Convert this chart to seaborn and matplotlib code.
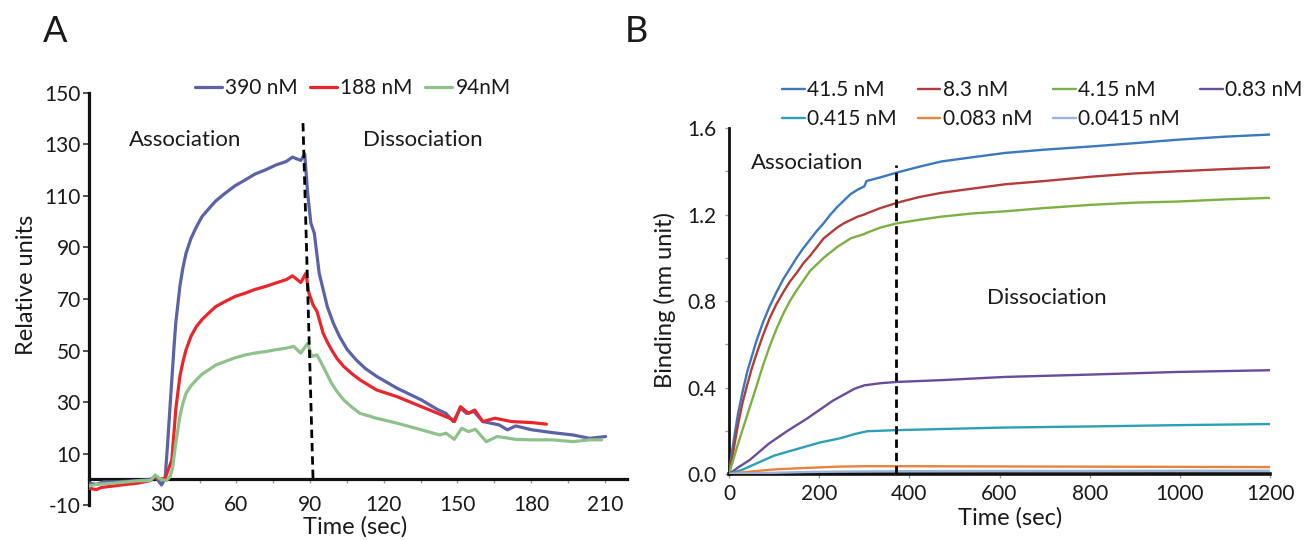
import matplotlib
matplotlib.use("Agg")
import matplotlib.pyplot as plt
from matplotlib.ticker import MultipleLocator, FormatStrFormatter
import seaborn as sns

# ---------------- Panel A: SPR sensorgrams ----------------
a_390_t = [0, 3, 6, 10, 15, 20, 25, 27, 29.5, 31, 32, 33.7, 34.5, 35.3, 37, 38.2, 39.5, 41.5,
           43.7, 46, 48.7, 51.5, 55.3, 59.5, 63.7, 67.5, 72, 76, 80.3, 82.8, 86.2, 87.8, 89,
           90.3, 91.7, 93.7, 97, 99.5, 102, 105, 108.7, 112.5, 117, 125.3, 135.3, 142, 145.3,
           148.3, 151.2, 153.7, 156.7, 160.3, 167, 170.3, 173.7, 180.3, 188.7, 197, 203.7,
           207.8, 210.3]
a_390_y = [-1.5, -2, -1, -1, -0.8, -0.5, 0, 1, -2.2, 0.4, 14, 38.6, 50, 60.6, 75, 82, 87.8, 93.5,
           98, 102, 105, 108, 111, 114, 116.3, 118.5, 120.2, 122, 123.4, 125.1, 123.8, 126.3, 111,
           99.5, 95.6, 80, 67, 60.5, 55.4, 50.5, 46.4, 43, 40, 35.4, 30.8, 27, 25.6,
           22.4, 27.6, 25.6, 26.3, 22.4, 21.1, 19.2, 20.7, 19.2, 18.1, 17.2, 15.9,
           16.3, 16.6]

a_188_t = [0, 3, 5, 10, 15, 20, 25, 27, 29, 31, 33.7, 34.5, 35.3, 36.2, 37, 38.2, 39.5, 41.5,
           43.7, 46, 48.7, 51.5, 55.3, 59.5, 63.7, 67.5, 72, 76, 80.3, 82.8, 86.2, 88.3, 89.5,
           91.2, 92.8, 95.3, 97, 98.7, 101, 103.7, 107, 110.3, 117, 125.3, 135.3, 142, 147.8,
           148.8, 151.2, 154.5, 157, 160.3, 165.3, 172, 180.3, 186.2]
a_188_y = [-3.5, -4, -3.2, -2.6, -2, -1.5, -0.5, 1, 0, 0.4, 7.5, 17, 27, 34, 40, 45.5, 50.3, 55.5,
           59.3, 62, 64.5, 67, 69, 71, 72.3, 73.7, 74.9, 76.2, 77.5, 79, 76.4, 80, 72.3,
           67.7, 65.2, 56.7, 53.3, 50.3, 46.8, 43.8, 41, 38.6, 34.7, 32.1, 28.2, 25.6, 23.3,
           22.4, 28.2, 25.6, 26.9, 22.4, 23.7, 22.4, 22, 21.4]

a_94_t = [0, 3, 10, 20, 25, 27, 29, 31.5, 33, 34, 35.3, 36.2, 37, 38.2, 39.5, 41.5, 43.7, 46,
          48.7, 51.5, 55.3, 59.5, 63.7, 67.5, 72, 76, 80.3, 83.3, 86.2, 89, 90.7, 92.8, 95.3,
          98.7, 101, 103.7, 107, 110.3, 117, 125.3, 135.3, 142.8, 145.3, 148.7, 151.7, 154.5,
          157.3, 161.7, 166.2, 173.7, 180.3, 188.7, 197, 203.7, 208.7]
a_94_y = [-2.6, -2, -1.5, -0.6, -0.5, 1.7, 0, -0.5, 1, 4.3, 14, 19.5, 24.4, 29.5, 33.4, 36.3, 38.6, 40.8,
          42.5, 44.3, 45.7, 47.2, 48.3, 49, 49.6, 50.3, 50.9, 51.6, 49, 52.8, 47.7, 48.3, 43.8,
          37.3, 34, 30.8, 28, 25.6, 23.7, 21.8, 19.2, 17.2, 17.9, 15.5, 19.8, 18.5,
          19.4, 14.6, 16.6, 15.5, 15.3, 15.3, 14.6, 15.3, 15.3]

a_labels = ["390 nM", "188 nM", "94nM"]
a_colors = ["#5c62a6", "#e8262c", "#8fc18b"]
a_switch_x = [87.1, 91.2]
a_switch_y = [138.3, 0]

# ---------------- Panel B: BLI binding curves ----------------
b_t_fast = [0, 5, 10, 20, 30, 40, 50, 60, 75, 90, 105, 120, 135, 150, 165, 180, 195, 210, 225,
            240, 255, 270, 285, 300, 305, 336, 374, 420, 470, 540, 613, 700, 804, 900, 995,
            1100, 1200]
b_415 = [0, 0.08, 0.15, 0.28, 0.38, 0.47, 0.54, 0.61, 0.70, 0.775, 0.84, 0.90, 0.95, 1.0, 1.045,
         1.085, 1.125, 1.16, 1.2, 1.235, 1.265, 1.295, 1.315, 1.33, 1.355, 1.372, 1.395, 1.42,
         1.445, 1.465, 1.485, 1.50, 1.515, 1.53, 1.546, 1.56, 1.57]
b_83 = [0, 0.055, 0.11, 0.23, 0.33, 0.41, 0.485, 0.55, 0.64, 0.72, 0.785, 0.84, 0.89, 0.93,
        0.975, 1.01, 1.05, 1.09, 1.115, 1.14, 1.16, 1.175, 1.19, 1.2, 1.205, 1.23, 1.255, 1.28,
        1.30, 1.32, 1.34, 1.355, 1.375, 1.39, 1.40, 1.41, 1.418]
b_4p15 = [0, 0.035, 0.07, 0.14, 0.205, 0.27, 0.335, 0.40, 0.50, 0.59, 0.67, 0.74, 0.80, 0.85,
          0.895, 0.94, 0.97, 1.0, 1.025, 1.05, 1.07, 1.09, 1.10, 1.11, 1.115, 1.14, 1.16, 1.175,
          1.19, 1.205, 1.215, 1.23, 1.245, 1.255, 1.26, 1.27, 1.277]

b_t_08 = [0, 20, 46, 88, 130, 172, 231, 279, 300, 336, 374, 470, 613, 804, 995, 1200]
b_0p83 = [0, 0.03, 0.065, 0.14, 0.20, 0.255, 0.34, 0.395, 0.41, 0.42, 0.426, 0.434, 0.449,
          0.46, 0.472, 0.48]

b_t_04 = [0, 30, 61, 100, 150, 200, 246, 279, 307, 374, 470, 613, 804, 995, 1200]
b_0p415 = [0, 0.02, 0.049, 0.085, 0.115, 0.145, 0.165, 0.185, 0.198, 0.203, 0.208, 0.215,
           0.22, 0.226, 0.231]

b_t_low = [0, 40, 106, 170, 239, 300, 400, 600, 800, 1000, 1200]
b_0p083 = [0, 0.01, 0.022, 0.028, 0.034, 0.036, 0.036, 0.035, 0.034, 0.033, 0.032]
b_0p0415 = [0, 0.003, 0.006, 0.009, 0.011, 0.012, 0.013, 0.014, 0.014, 0.015, 0.015]

b_labels = ["41.5 nM", "8.3 nM", "4.15 nM", "0.83 nM", "0.415 nM", "0.083 nM", "0.0415 nM"]
b_colors = ["#3b78bd", "#b23b3b", "#7cb043", "#6a4c9b", "#2ca1b6", "#e8833b", "#9ab4dc"]
b_switch_x = [370, 370]
b_switch_y = [0, 1.43]

# ---------------- Figure ----------------
sns.set_theme(style="white")
plt.rcParams["font.family"] = ["Lato", "DejaVu Sans"]
plt.rcParams["axes.unicode_minus"] = False
TXT = "#1a1a1a"

fig = plt.figure(figsize=(13.15, 5.4), dpi=100)
axA = fig.add_axes([0.0677, 0.0648, 0.4091, 0.763])
axB = fig.add_axes([0.5544, 0.1222, 0.4114, 0.6407])

# ---- Panel A ----
for t, y, lab, col in zip([a_390_t, a_188_t, a_94_t], [a_390_y, a_188_y, a_94_y],
                          a_labels, a_colors):
    sns.lineplot(x=t, y=y, ax=axA, color=col, lw=2.3, label=lab, zorder=3, sort=False)

axA.plot(a_switch_x, a_switch_y, color="black", lw=2.0, ls=(0, (3.0, 1.8)), zorder=4)

axA.set_xlim(0, 219)
axA.set_ylim(-10, 150)
axA.set_xticks([30, 60, 90, 120, 150, 180, 210])
axA.xaxis.set_minor_locator(MultipleLocator(15))
axA.set_yticks(list(range(-10, 151, 20)))
axA.spines[["top", "right"]].set_visible(False)
axA.spines["bottom"].set_position(("data", 0))
for s in ("left", "bottom"):
    axA.spines[s].set_linewidth(2.3)
    axA.spines[s].set_color("#111111")
axA.tick_params(axis="x", which="both", bottom=True, direction="out", length=3, width=1,
                color="#9a9a9a", pad=8, labelsize=15, labelcolor=TXT)
axA.tick_params(axis="y", left=True, direction="out", length=4, width=1.2, color="#333333",
                pad=2, labelsize=15, labelcolor=TXT)
axA.set_xlabel("Time (sec)", fontsize=17, color=TXT)
axA.xaxis.set_label_coords(0.494, -0.028)
axA.set_ylabel("Relative units", fontsize=17, color=TXT)
axA.yaxis.set_label_coords(-0.097, 0.534)

axA.legend(loc="center", bbox_to_anchor=(0.49, 1.012), ncol=3, frameon=False, fontsize=15,
           handlelength=1.3, handletextpad=0.15, columnspacing=0.6, borderpad=0,
           borderaxespad=0, labelcolor=TXT)

axA.text(39, 131.8, "Association", fontsize=16, ha="center", va="center", color=TXT)
axA.text(136, 131.8, "Dissociation", fontsize=16, ha="center", va="center", color=TXT)

# ---- Panel B ----
b_series = [
    (b_t_fast, b_415), (b_t_fast, b_83), (b_t_fast, b_4p15), (b_t_08, b_0p83),
    (b_t_04, b_0p415), (b_t_low, b_0p083), (b_t_low, b_0p0415),
]
for (t, y), lab, col in zip(b_series, b_labels, b_colors):
    sns.lineplot(x=t, y=y, ax=axB, color=col, lw=1.7, label=lab, zorder=3, sort=False)

axB.plot(b_switch_x, b_switch_y, color="black", lw=2.0, ls=(0, (3.0, 1.8)), zorder=4,
         clip_on=False)

axB.set_xlim(0, 1200)
axB.set_ylim(0, 1.6)
axB.set_xticks(list(range(0, 1201, 200)))
axB.set_yticks([0.0, 0.4, 0.8, 1.2, 1.6])
axB.yaxis.set_minor_locator(MultipleLocator(0.2))
axB.yaxis.set_major_formatter(FormatStrFormatter("%.1f"))
axB.spines[["top", "right"]].set_visible(False)
axB.spines["left"].set_linewidth(2.0)
axB.spines["bottom"].set_linewidth(2.6)
axB.spines["left"].set_color("#111111")
axB.spines["bottom"].set_color("#111111")
axB.tick_params(axis="x", bottom=True, direction="out", length=3, width=1, color="#9a9a9a",
                pad=4, labelsize=15, labelcolor=TXT)
axB.tick_params(axis="y", which="both", left=True, direction="out", length=3, width=1,
                color="#9a9a9a", pad=6, labelsize=15, labelcolor=TXT)
axB.set_xlabel("Time (sec)", fontsize=17, color=TXT)
axB.xaxis.set_label_coords(0.519, -0.095)
axB.set_ylabel("Binding (nm unit)", fontsize=17, color=TXT)
axB.yaxis.set_label_coords(-0.098, 0.503)

h, l = axB.get_legend_handles_labels()
order = [0, 4, 1, 5, 2, 6, 3]
axB.legend([h[i] for i in order], [l[i] for i in order], loc="center left",
           bbox_to_anchor=(0.098, 1.068), ncol=4, frameon=False, fontsize=15,
           handlelength=1.1, handletextpad=0.1, columnspacing=1.0, labelspacing=0.45,
           borderpad=0, borderaxespad=0, labelcolor=TXT)

axB.text(173, 1.438, "Association", fontsize=16, ha="center", va="center", color=TXT)
axB.text(704, 0.814, "Dissociation", fontsize=16, ha="center", va="center", color=TXT)

# panel letters
fig.text(0.0418, 0.941, "A", fontsize=26, ha="center", va="center", color=TXT)
fig.text(0.4837, 0.941, "B", fontsize=26, ha="center", va="center", color=TXT)

fig.savefig("out.png", dpi=100, facecolor="white")
